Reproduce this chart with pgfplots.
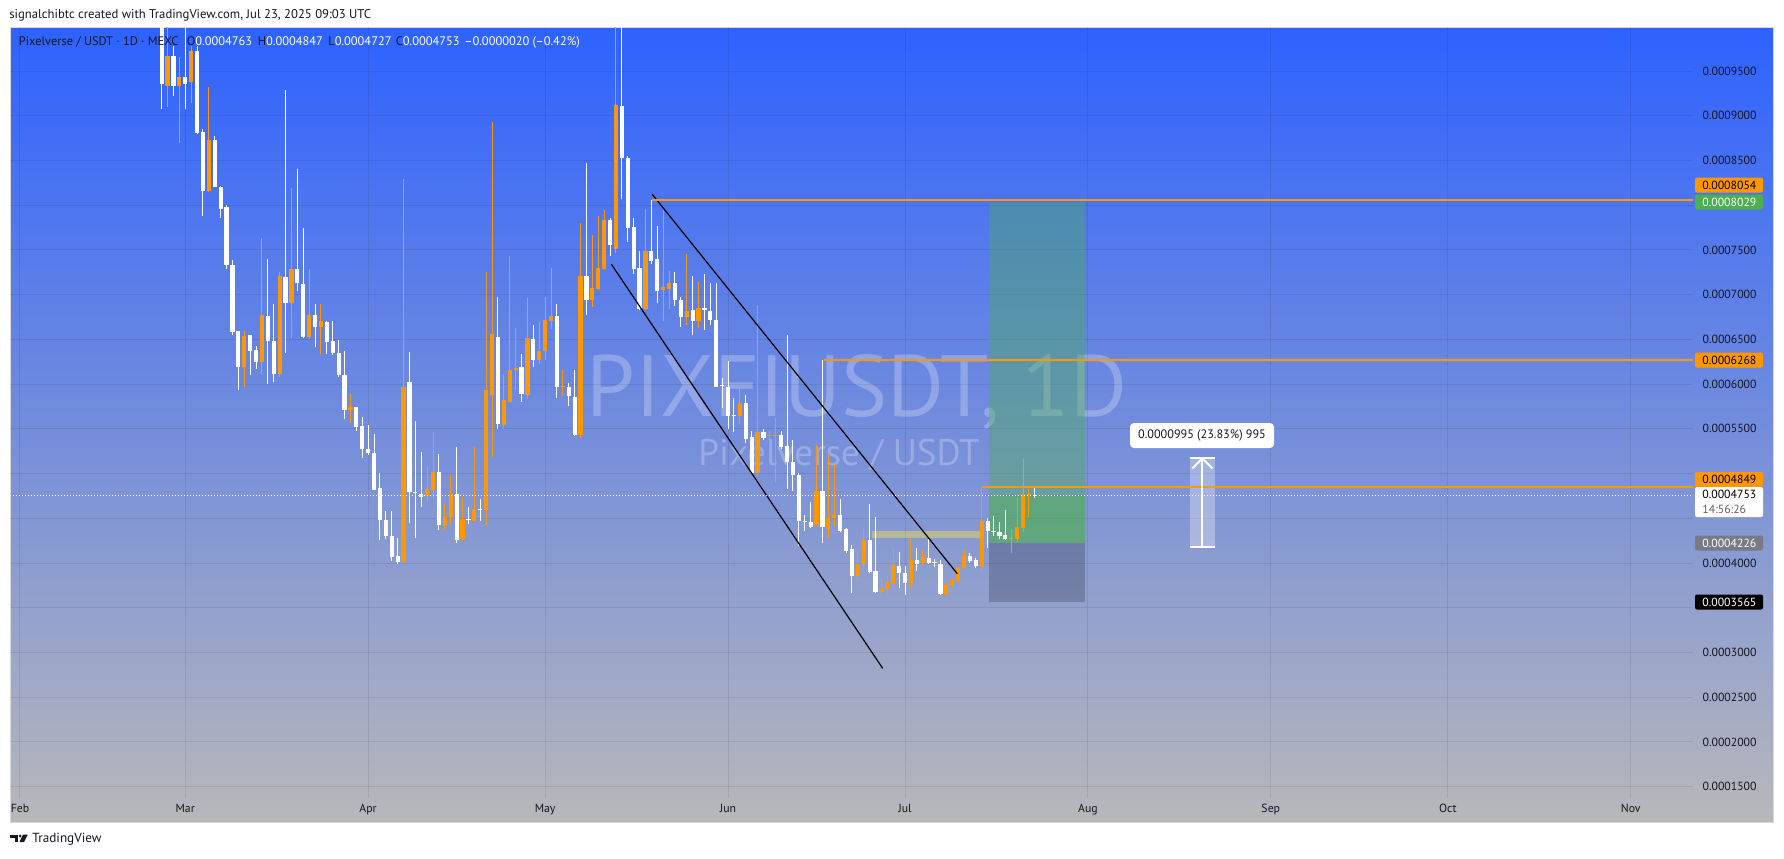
\documentclass[border=0pt]{standalone}
\usepackage{fontspec}
\setmainfont{PT Sans}
\usepackage{pgfplots}
\usepackage{pgfplotstable}
\pgfplotsset{compat=1.18}

\definecolor{tvorange}{HTML}{FF9800}
\definecolor{tvgreen}{HTML}{4CAF50}
\definecolor{tvgray}{HTML}{787B86}
\definecolor{tvtext}{HTML}{131722}
\definecolor{bgtop}{RGB}{46,98,255}
\definecolor{bgbot}{RGB}{184,184,186}
\definecolor{khaki}{HTML}{FFEB3B}

% daily candles, x = days since 1 Feb 2025
\pgfplotstableread{
d O H L C
25 0.0009331 0.0010100 0.0009096 0.0009673
27 0.0009331 0.0009652 0.0008690 0.0009438
29 0.0009374 0.0009780 0.0009139 0.0009729
32 0.0008155 0.0009318 0.0008150 0.0008724
38 0.0006187 0.0006589 0.0005973 0.0006538
41 0.0006251 0.0007633 0.0006102 0.0006773
44 0.0006110 0.0007248 0.0006080 0.0007209
46 0.0006906 0.0008189 0.0006521 0.0007282
49 0.0006529 0.0007282 0.0006499 0.0006778
51 0.0006636 0.0006901 0.0006337 0.0006700
56 0.0005716 0.0005888 0.0005567 0.0005742
65 0.0004006 0.0008296 0.0004000 0.0005965
69 0.0004745 0.0005083 0.0004690 0.0004827
70 0.0004818 0.0005460 0.0004711 0.0005023
72 0.0004425 0.0004656 0.0004369 0.0004519
73 0.0004510 0.0004989 0.0004433 0.0004767
75 0.0004271 0.0004733 0.0004254 0.0004497
77 0.0004468 0.0005302 0.0004455 0.0004604
79 0.0004596 0.0007248 0.0004412 0.0005930
80 0.0005875 0.0008925 0.0005182 0.0006559
82 0.0005545 0.0006110 0.0005503 0.0005823
83 0.0005802 0.0007428 0.0005800 0.0006157
84 0.0006153 0.0006628 0.0005939 0.0006183
86 0.0005875 0.0006957 0.0005836 0.0006517
88 0.0006273 0.0006696 0.0006221 0.0006371
89 0.0006367 0.0006974 0.0006273 0.0006718
90 0.0006709 0.0007299 0.0006615 0.0006760
92 0.0005965 0.0006157 0.0005866 0.0005982
95 0.0005430 0.0007800 0.0005396 0.0007209
97 0.0006944 0.0007667 0.0006863 0.0007077
98 0.0007064 0.0007877 0.0007051 0.0007299
99 0.0007286 0.0007941 0.0007278 0.0007830
101 0.0007505 0.0011000 0.0007462 0.0009122
106 0.0006837 0.0007962 0.0006830 0.0007487
109 0.0007055 0.0007950 0.0006700 0.0007090
110 0.0007064 0.0007265 0.0006837 0.0007128
113 0.0006752 0.0007453 0.0006658 0.0006812
115 0.0006700 0.0007137 0.0006628 0.0006850
122 0.0005639 0.0005965 0.0005558 0.0005789
125 0.0005011 0.0006884 0.0004976 0.0005460
127 0.0005417 0.0005481 0.0005280 0.0005430
128 0.0005417 0.0005622 0.0004895 0.0005430
135 0.0004425 0.0005319 0.0004420 0.0004805
137 0.0004378 0.0005212 0.0004284 0.0004506
138 0.0004506 0.0005105 0.0004412 0.0004540
142 0.0003856 0.0004134 0.0003792 0.0003993
143 0.0003984 0.0004391 0.0003920 0.0004262
146 0.0003672 0.0003826 0.0003655 0.0003706
147 0.0003706 0.0003856 0.0003655 0.0003783
148 0.0003770 0.0004168 0.0003758 0.0003976
151 0.0003775 0.0004265 0.0003716 0.0004030
153 0.0003998 0.0004147 0.0003983 0.0004069
157 0.0003657 0.0003775 0.0003630 0.0003755
158 0.0003755 0.0003826 0.0003736 0.0003814
159 0.0003802 0.0003951 0.0003787 0.0003943
160 0.0003943 0.0004147 0.0003932 0.0004077
163 0.0003959 0.0004849 0.0003912 0.0004469
168 0.0004273 0.0004382 0.0004116 0.0004285
169 0.0004265 0.0004735 0.0004234 0.0004402
170 0.0004390 0.0005167 0.0004351 0.0004767
171 0.0004755 0.0004822 0.0004520 0.0004767
}\upcandles

\pgfplotstableread{
d O H L C
24 0.0010250 0.0010500 0.0009075 0.0009353
26 0.0009673 0.0009780 0.0009224 0.0009331
28 0.0009438 0.0010050 0.0009075 0.0009353
30 0.0009729 0.0009780 0.0008800 0.0008805
31 0.0008818 0.0008848 0.0007877 0.0008155
33 0.0008724 0.0008775 0.0008200 0.0008206
34 0.0008198 0.0008219 0.0007855 0.0007962
35 0.0007979 0.0008005 0.0007286 0.0007329
36 0.0007329 0.0007385 0.0006551 0.0006585
37 0.0006589 0.0006595 0.0005930 0.0006187
39 0.0006547 0.0006550 0.0006102 0.0006375
40 0.0006380 0.0006422 0.0006166 0.0006251
42 0.0006760 0.0007393 0.0005999 0.0006487
43 0.0006487 0.0006901 0.0006029 0.0006110
45 0.0007197 0.0009288 0.0006350 0.0006906
47 0.0007282 0.0008399 0.0007043 0.0007128
48 0.0007120 0.0007740 0.0006517 0.0006529
50 0.0006778 0.0006901 0.0006410 0.0006636
52 0.0006696 0.0006709 0.0006337 0.0006474
53 0.0006482 0.0006709 0.0006324 0.0006350
54 0.0006350 0.0006495 0.0006080 0.0006102
55 0.0006102 0.0006371 0.0005609 0.0005716
57 0.0005742 0.0005745 0.0005481 0.0005524
58 0.0005528 0.0005631 0.0005173 0.0005280
59 0.0005280 0.0005545 0.0005203 0.0005233
60 0.0005233 0.0005438 0.0004815 0.0004818
61 0.0004840 0.0005002 0.0004254 0.0004476
62 0.0004480 0.0004583 0.0004270 0.0004305
63 0.0004305 0.0004583 0.0004027 0.0004070
64 0.0004078 0.0004284 0.0003984 0.0004006
66 0.0006025 0.0006358 0.0004446 0.0004797
67 0.0004797 0.0005588 0.0004284 0.0004782
68 0.0004775 0.0005246 0.0004626 0.0004733
71 0.0005023 0.0005216 0.0004369 0.0004420
74 0.0004775 0.0005302 0.0004228 0.0004262
76 0.0004497 0.0004626 0.0004433 0.0004476
78 0.0004604 0.0004711 0.0004468 0.0004590
81 0.0006525 0.0006979 0.0005503 0.0005558
85 0.0006196 0.0006337 0.0005802 0.0005888
87 0.0006504 0.0006666 0.0006187 0.0006273
91 0.0006760 0.0006901 0.0005845 0.0005965
93 0.0005973 0.0006016 0.0005751 0.0005866
94 0.0005857 0.0006157 0.0005417 0.0005430
96 0.0007209 0.0008467 0.0006778 0.0006944
100 0.0007830 0.0007855 0.0007436 0.0007556
102 0.0009109 0.0010150 0.0008069 0.0008531
103 0.0008527 0.0008548 0.0007590 0.0007748
104 0.0007757 0.0007855 0.0007235 0.0007286
105 0.0007299 0.0007483 0.0006829 0.0006837
107 0.0007487 0.0008054 0.0007342 0.0007376
108 0.0007398 0.0007770 0.0006906 0.0007043
111 0.0007128 0.0007248 0.0006872 0.0006944
112 0.0006944 0.0006979 0.0006636 0.0006752
114 0.0006829 0.0007205 0.0006551 0.0006700
116 0.0006850 0.0007231 0.0006606 0.0006825
117 0.0006816 0.0007128 0.0006666 0.0006718
118 0.0006718 0.0007128 0.0005970 0.0005973
119 0.0005995 0.0006067 0.0005738 0.0005982
120 0.0005973 0.0006260 0.0005503 0.0005639
121 0.0005652 0.0005845 0.0005460 0.0005639
123 0.0005789 0.0005875 0.0005340 0.0005391
124 0.0005408 0.0005481 0.0005002 0.0005011
126 0.0005468 0.0005503 0.0005374 0.0005396
129 0.0005430 0.0005481 0.0005280 0.0005297
130 0.0005310 0.0006551 0.0004831 0.0005126
131 0.0005130 0.0005374 0.0004810 0.0004989
132 0.0004989 0.0005011 0.0004185 0.0004468
133 0.0004468 0.0004540 0.0004356 0.0004456
134 0.0004459 0.0004681 0.0004390 0.0004403
136 0.0004805 0.0006268 0.0004228 0.0004408
139 0.0004540 0.0004711 0.0004348 0.0004361
140 0.0004378 0.0004391 0.0004112 0.0004134
141 0.0004155 0.0004198 0.0003663 0.0003856
144 0.0004262 0.0004656 0.0003886 0.0003899
145 0.0003911 0.0004519 0.0003663 0.0003672
149 0.0003971 0.0004128 0.0003716 0.0003892
150 0.0003892 0.0003971 0.0003645 0.0003775
152 0.0004030 0.0004167 0.0003912 0.0003990
154 0.0004057 0.0004265 0.0003990 0.0003998
155 0.0004010 0.0004049 0.0003951 0.0003998
156 0.0003990 0.0004037 0.0003645 0.0003657
161 0.0004077 0.0004108 0.0004000 0.0004022
162 0.0004037 0.0004061 0.0003943 0.0003971
164 0.0004469 0.0004500 0.0004167 0.0004363
165 0.0004363 0.0004528 0.0004304 0.0004343
166 0.0004343 0.0004461 0.0004265 0.0004304
167 0.0004312 0.0004598 0.0004257 0.0004265
172 0.0004763 0.0004847 0.0004727 0.0004753
}\downcandles

\pgfplotsset{
  wick/.style={draw=none, mark=none, forget plot,
    error bars/.cd, y dir=plus, y explicit, error mark=none,
    error bar style={draw=#1, line width=0.5pt}},
  body/.style={draw=none, mark=none, forget plot,
    error bars/.cd, y dir=plus, y explicit, error mark=none,
    error bar style={draw=#1, line width=2.1pt}},
}

\newcommand\tfont{\fontsize{5.9pt}{7pt}\selectfont}
\newcommand\plabel[4]{%
  \fill[#2, rounded corners=1pt] (1695,#1-7.5) rectangle (1763,#1+7.5);
  \node[anchor=west, inner sep=0pt, text=#3] at (1702,#1) {#4};}

\begin{document}
\begin{tikzpicture}
\useasboundingbox (0,0) rectangle (892pt,-429pt);
\fill[white] (0,0) rectangle (892pt,-429pt);

\begin{scope}[x=0.5pt, y=-0.5pt]
  \shade[top color=bgtop, bottom color=bgbot] (10,27) rectangle (1773,822);
  \draw[black!15, line width=0.5pt] (10,27) rectangle (1773,822);
  \node[text=white, text opacity=0.25, inner sep=0pt,
        font=\fontsize{43.5pt}{43.5pt}\selectfont] at (857,392) {PIXFIUSDT, 1D};
  \node[text=white, text opacity=0.25, inner sep=0pt,
        font=\fontsize{18.5pt}{18.5pt}\selectfont] at (839,455) {Pixelverse / USDT};
  \node[anchor=base west, inner sep=0pt, text=tvtext, font=\fontsize{6.35pt}{7pt}\selectfont]
    at (9,18.5) {signalchibtc created with TradingView.com, Jul 23, 2025 09:03 UTC};
\end{scope}

\begin{axis}[
  at={(5pt,-13.5pt)}, anchor=north west,
  width=841.5pt, height=385.5pt, scale only axis,
  xmin=-1.695, xmax=283.56,
  ymin=0.00013734, ymax=0.00099918,
  axis line style={draw=none},
  major tick style={draw=none},
  grid=major,
  major grid style={black, opacity=0.08, line width=0.5pt},
  xtick={0,28,59,89,120,150,181,212,242,273},
  xticklabels={Feb,Mar,Apr,May,Jun,Jul,Aug,Sep,Oct,Nov},
  xticklabel style={anchor=mid, inner sep=0pt, yshift=-4.6pt, font=\tfont, text=tvtext},
  ytick={0.00015,0.0002,0.00025,0.0003,0.00035,0.0004,0.00045,0.0005,0.00055,0.0006,0.00065,0.0007,0.00075,0.0008,0.00085,0.0009,0.00095},
  % labels that sit under the price-scale boxes are left blank
  yticklabels={0.0001500,0.0002000,0.0002500,0.0003000,{},0.0004000,{},{},0.0005500,0.0006000,0.0006500,0.0007000,0.0007500,{},0.0008500,0.0009000,0.0009500},
  yticklabel pos=right,
  yticklabel style={anchor=west, inner sep=0pt, xshift=4.6pt, font=\tfont, text=tvtext},
  scaled y ticks=false,
]
% long position: target, running profit, stop
\addplot[draw=none, fill=tvgreen, fill opacity=0.4, forget plot]
  coordinates {(164.29,0.0004226) (180.51,0.0004226) (180.51,0.0008029) (164.29,0.0008029)};
\addplot[draw=none, fill=tvgreen, fill opacity=0.4, forget plot]
  coordinates {(164.29,0.0004226) (180.51,0.0004226) (180.51,0.0004753) (164.29,0.0004753)};
\addplot[draw=none, fill=black, fill opacity=0.2, forget plot]
  coordinates {(164.29,0.0003565) (180.51,0.0003565) (180.51,0.0004226) (164.29,0.0004226)};
\addplot[gray, dashed, opacity=0.6, line width=0.5pt, forget plot]
  coordinates {(164.6,0.0004226) (172,0.0004753)};
% base box
\addplot[draw=none, fill=khaki, fill opacity=0.4, forget plot]
  coordinates {(144.4,0.0004284) (163.0,0.0004284) (163.0,0.0004363) (144.4,0.0004363)};
% measure
\addplot[draw=none, fill=white, fill opacity=0.3, forget plot]
  coordinates {(198.3,0.0004175) (202.5,0.0004175) (202.5,0.0005170) (198.3,0.0005170)};

% candles
\addplot[wick=tvorange] table[x=d, y=L, y error plus expr=\thisrow{H}-\thisrow{L}] {\upcandles};
\addplot[body=tvorange] table[x=d, y=O, y error plus expr=\thisrow{C}-\thisrow{O}] {\upcandles};
\addplot[wick=white] table[x=d, y=L, y error plus expr=\thisrow{H}-\thisrow{L}] {\downcandles};
\addplot[body=white] table[x=d, y=C, y error plus expr=\thisrow{O}-\thisrow{C}] {\downcandles};

% falling channel
\addplot[black, line width=0.6pt] coordinates {(107.17,0.00081206) (158.86,0.00038807)};
\addplot[black, line width=0.6pt] coordinates {(100.22,0.00073415) (146.22,0.00028222)};
% levels
\addplot[tvorange, line width=1pt] coordinates {(107.17,0.0008054) (283.56,0.0008054)};
\addplot[tvorange, line width=1pt] coordinates {(136.3,0.0006268) (283.56,0.0006268)};
\addplot[tvorange, line width=1pt] coordinates {(163.0,0.0004849) (283.56,0.0004849)};
% last price
\addplot[white, line width=0.5pt, dash pattern=on 0.5pt off 1pt] coordinates {(-1.695,0.0004753) (283.56,0.0004753)};
% measure arrow
\addplot[white, line width=1pt] coordinates {(200.4,0.0004175) (200.4,0.0005170)};
\addplot[white, line width=1pt] coordinates {(198.3,0.0004175) (202.5,0.0004175)};
\addplot[white, line width=1pt] coordinates {(198.3,0.0005170) (202.5,0.0005170)};
\addplot[white, line width=1pt] coordinates {(198.7,0.0005058) (200.4,0.0005170) (202.1,0.0005058)};
\end{axis}

\begin{scope}[x=0.5pt, y=-0.5pt, font=\tfont]
  % legend line
  \begin{scope}[font=\fontsize{6.2pt}{7pt}\selectfont]
    \node[anchor=base west, inner sep=0pt, text=tvtext] at (18.5,45.5) {Pixelverse / USDT · 1D · MEXC};
    \node[anchor=base west, inner sep=0pt] at (186.5,45.5) {\textcolor{tvtext}{O}\textcolor{white}{0.0004763}};
    \node[anchor=base west, inner sep=0pt] at (257.5,45.5) {\textcolor{tvtext}{H}\textcolor{white}{0.0004847}};
    \node[anchor=base west, inner sep=0pt] at (328,45.5) {\textcolor{tvtext}{L}\textcolor{white}{0.0004727}};
    \node[anchor=base west, inner sep=0pt] at (395.5,45.5) {\textcolor{tvtext}{C}\textcolor{white}{0.0004753}};
    \node[anchor=base west, inner sep=0pt, text=white] at (464,45.5) {–0.0000020 (–0.42\%)};
  \end{scope}
  % measure label
  \fill[white, rounded corners=2pt] (1130,423) rectangle (1274,448);
  \node[text=tvtext, inner sep=0pt, font=\fontsize{6.1pt}{7pt}\selectfont] at (1202,435.5) {0.0000995 (23.83\%) 995};
  % price scale labels
  \plabel{185}{tvorange}{black}{0.0008054}
  \plabel{202}{tvgreen}{white}{0.0008029}
  \plabel{360}{tvorange}{black}{0.0006268}
  \plabel{479.5}{tvorange}{black}{0.0004849}
  \fill[white, rounded corners=1pt] (1695,487) rectangle (1763,517);
  \node[anchor=west, inner sep=0pt, text=black] at (1702,494.5) {0.0004753};
  \node[anchor=west, inner sep=0pt, text=tvgray!80!black] at (1702,509) {14:56:26};
  \plabel{543}{tvgray}{white}{0.0004226}
  \plabel{602}{black}{white}{0.0003565}
  % TradingView mark
  \fill[tvtext] (10,834.5) rectangle (17.5,837.5);
  \fill[tvtext] (14.5,834.5) rectangle (17.5,842);
  \fill[tvtext] (20.2,836) circle (1.5);
  \fill[tvtext] (23,834.5) -- (27.8,834.5) -- (24,842) -- (19.5,842) -- cycle;
  \node[anchor=base west, inner sep=0pt, text=tvtext, font=\fontsize{6.6pt}{7pt}\selectfont] at (32,842.5) {TradingView};
\end{scope}
\end{tikzpicture}
\end{document}
